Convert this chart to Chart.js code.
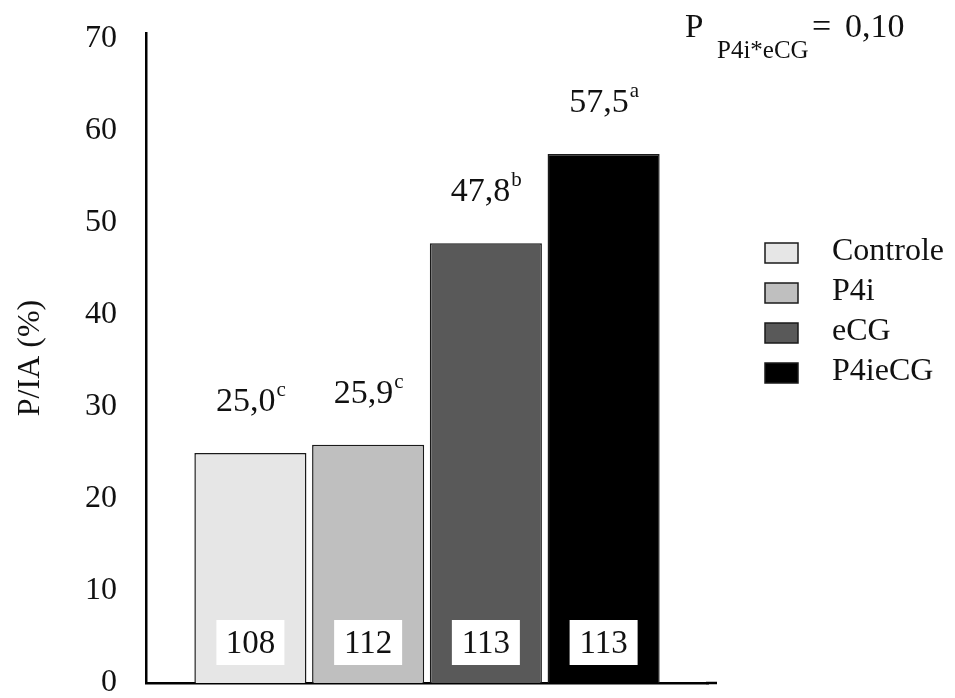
<!DOCTYPE html>
<html>
<head>
<meta charset="utf-8">
<script src="https://cdn.jsdelivr.net/npm/chart.js@4/dist/chart.umd.min.js"></script>
<style>
  html, body { margin: 0; padding: 0; background: #fff; }
  #wrap { width: 955px; height: 698px; position: relative; }
</style>
</head>
<body>
<div id="wrap"><canvas id="chart"></canvas></div>
<script>
const groups = ['Controle', 'P4i', 'eCG', 'P4ieCG'];
const values = [25.0, 25.9, 47.8, 57.5];
const valueText = ['25,0', '25,9', '47,8', '57,5'];
const letters = ['c', 'c', 'b', 'a'];
const counts = ['108', '112', '113', '113'];
const colors = ['#e6e6e6', '#bfbfbf', '#595959', '#000000'];
const yTicks = [0, 10, 20, 30, 40, 50, 60, 70];

const SERIF = "'Liberation Serif', 'Times New Roman', serif";

const datasets = groups.map((g, i) => ({
    label: g,
    data: [values[i]],
    backgroundColor: colors[i],
    borderColor: '#1a1a1a',
    borderWidth: 1.5,
    categoryPercentage: 0.838,
    barPercentage: 0.952
}));

const labelsPlugin = {
    id: 'labels',
    afterDatasetsDraw(chart) {
        const c = chart.ctx;
        const area = chart.chartArea;
        c.save();

        // axis line runs a little past the plot on the right
        c.strokeStyle = '#000';
        c.lineWidth = 2.5;
        c.beginPath();
        c.moveTo(area.right - 2, area.bottom);
        c.lineTo(717, area.bottom);
        c.stroke();

        c.fillStyle = '#111';
        chart.data.datasets.forEach((ds, i) => {
            const bar = chart.getDatasetMeta(i).data[0];
            // value + significance letter
            c.font = '34px ' + SERIF;
            const w1 = c.measureText(valueText[i]).width;
            c.font = '21px ' + SERIF;
            const w2 = c.measureText(letters[i]).width;
            const x0 = bar.x - (w1 + w2) / 2;
            const base = bar.y - 42;
            c.textAlign = 'left';
            c.textBaseline = 'alphabetic';
            c.font = '34px ' + SERIF;
            c.fillText(valueText[i], x0, base);
            c.font = '21px ' + SERIF;
            c.fillText(letters[i], x0 + w1 + 1, base - 15);

            // count box
            const bw = 68, bh = 45;
            const by = area.bottom - 18 - bh;
            c.fillStyle = '#fff';
            c.fillRect(bar.x - bw / 2, by, bw, bh);
            c.fillStyle = '#111';
            c.font = '33px ' + SERIF;
            c.textAlign = 'center';
            c.textBaseline = 'middle';
            c.fillText(counts[i], bar.x, by + bh / 2 + 2);
        });

        // legend
        groups.forEach((g, i) => {
            const y = 243 + i * 40;
            c.fillStyle = colors[i];
            c.fillRect(765, y, 33, 20);
            c.strokeStyle = '#1a1a1a';
            c.lineWidth = 1.5;
            c.strokeRect(765, y, 33, 20);
            c.fillStyle = '#111';
            c.font = '32px ' + SERIF;
            c.textAlign = 'left';
            c.textBaseline = 'middle';
            c.fillText(g, 832, y + 9);
        });

        // interaction p-value
        c.textBaseline = 'alphabetic';
        c.textAlign = 'left';
        c.font = '33px ' + SERIF;
        c.fillText('P', 685, 37);
        c.font = '25px ' + SERIF;
        c.fillText('P4i*eCG', 717, 58);
        c.font = '34px ' + SERIF;
        c.fillText('=', 812, 37);
        c.fillText('0,10', 845, 37);
        c.restore();
    }
};

new Chart(document.getElementById('chart'), {
    type: 'bar',
    data: { labels: [''], datasets: datasets },
    options: {
        responsive: true,
        maintainAspectRatio: false,
        animation: false,
        layout: { padding: { top: 33, right: 247, bottom: 15, left: 0 } },
        plugins: {
            legend: { display: false },
            tooltip: { enabled: false }
        },
        scales: {
            x: {
                grid: { display: false, drawTicks: false },
                border: { display: true, color: '#000', width: 2.5 },
                ticks: { display: false },
                afterFit(scale) {
                    scale.height = 0;
                    scale.paddingLeft = 0;
                    scale.paddingRight = 0;
                }
            },
            y: {
                min: 0,
                max: 70.65,
                grid: { display: false, drawTicks: false },
                border: { display: true, color: '#000', width: 2.5 },
                afterBuildTicks(scale) {
                    scale.ticks = yTicks.map(v => ({ value: v }));
                },
                ticks: {
                    color: '#111',
                    padding: 29,
                    font: { family: SERIF, size: 32 }
                },
                title: {
                    display: true,
                    text: 'P/IA (%)',
                    color: '#111',
                    font: { family: SERIF, size: 32 },
                    padding: { top: 11, bottom: 0 }
                },
                afterFit(scale) {
                    scale.width = 146;
                    scale.paddingTop = 0;
                    scale.paddingBottom = 0;
                }
            }
        }
    },
    plugins: [labelsPlugin]
});
</script>
</body>
</html>
